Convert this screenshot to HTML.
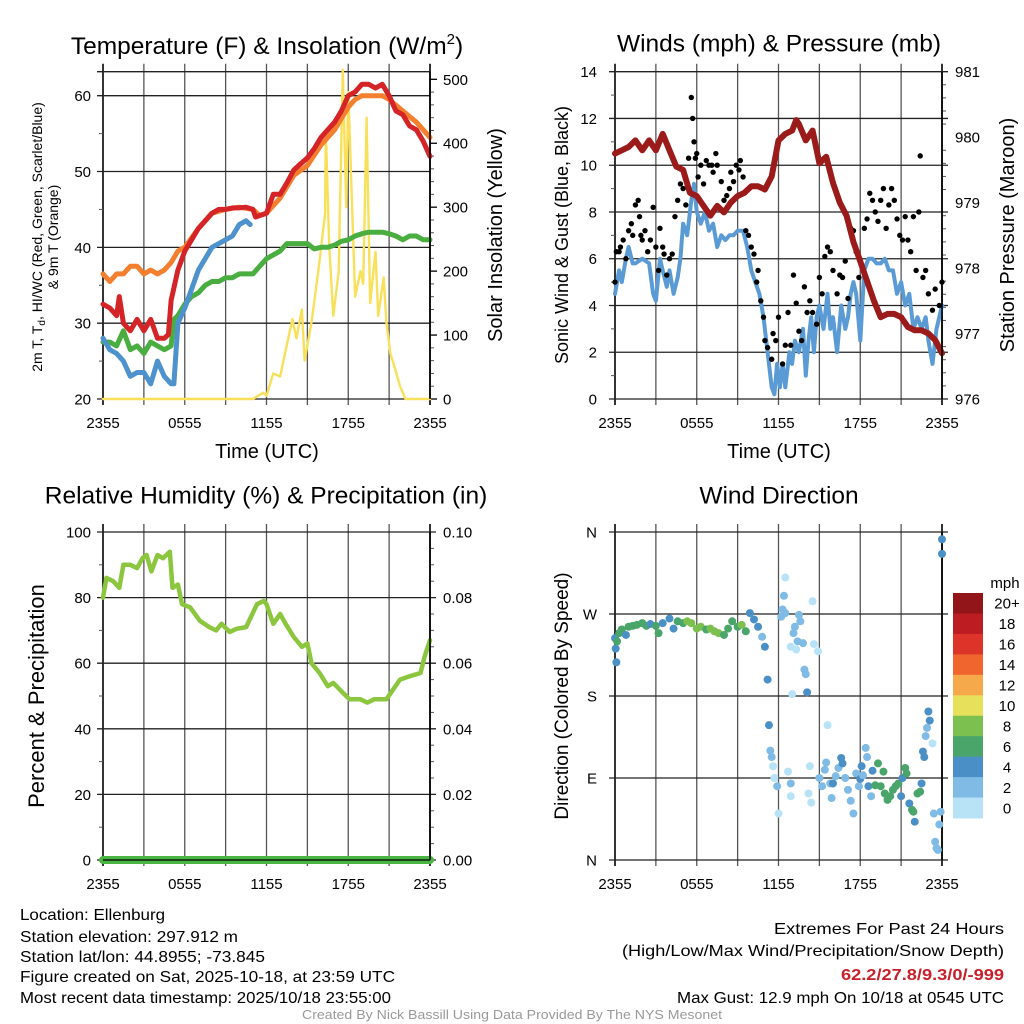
<!DOCTYPE html>
<html><head><meta charset="utf-8"><style>
html,body{margin:0;padding:0;background:#fff;}
svg{display:block;font-family:"Liberation Sans",sans-serif;}
.nar{font-family:"Liberation Sans Narrow","Liberation Sans",sans-serif;}
</style></head><body>
<svg id="root" width="1024" height="1024" viewBox="0 0 1024 1024" xmlns="http://www.w3.org/2000/svg">
<rect width="1024" height="1024" fill="#fff"/>
<text x="267" y="54" font-size="24.5" text-anchor="middle">Temperature (F) &amp; Insolation (W/m<tspan font-size="15" dy="-10">2</tspan><tspan dy="10">)</tspan></text>
<text x="779" y="45" font-size="24.5" text-anchor="middle" dominant-baseline="middle">Winds (mph) &amp; Pressure (mb)</text>
<text x="266" y="497" font-size="24.5" text-anchor="middle" dominant-baseline="middle">Relative Humidity (%) &amp; Precipitation (in)</text>
<text x="779" y="497" font-size="24.5" text-anchor="middle" dominant-baseline="middle">Wind Direction</text>
<text x="267" y="458" font-size="20" text-anchor="middle">Time (UTC)</text>
<text x="779" y="458" font-size="20" text-anchor="middle">Time (UTC)</text>
<text transform="translate(42,237) rotate(-90)" font-size="14" text-anchor="middle">2m T, T<tspan font-size="10" dy="3">d</tspan><tspan dy="-3">, HI/WC (Red, Green, Scarlet/Blue)</tspan></text>
<text transform="translate(58,237) rotate(-90)" font-size="14" text-anchor="middle">&amp; 9m T (Orange)</text>
<text transform="translate(502,235) rotate(-90)" font-size="20" text-anchor="middle">Solar Insolation (Yellow)</text>
<text transform="translate(568,235) rotate(-90)" font-size="18" text-anchor="middle">Sonic Wind &amp; Gust (Blue, Black)</text>
<text transform="translate(1014,235) rotate(-90)" font-size="20" text-anchor="middle">Station Pressure (Maroon)</text>
<text transform="translate(44,696) rotate(-90)" font-size="22" text-anchor="middle">Percent &amp; Precipitation</text>
<text transform="translate(568,696) rotate(-90)" font-size="19" text-anchor="middle">Direction (Colored By Speed)</text>
<g class="nar" font-size="16">
<text x="20" y="920" textLength="145" lengthAdjust="spacingAndGlyphs">Location: Ellenburg</text>
<text x="20" y="942" textLength="218" lengthAdjust="spacingAndGlyphs">Station elevation: 297.912 m</text>
<text x="20" y="962" textLength="245" lengthAdjust="spacingAndGlyphs">Station lat/lon: 44.8955; -73.845</text>
<text x="20" y="982" textLength="375" lengthAdjust="spacingAndGlyphs">Figure created on Sat, 2025-10-18, at 23:59 UTC</text>
<text x="20" y="1003" textLength="371" lengthAdjust="spacingAndGlyphs">Most recent data timestamp: 2025/10/18 23:55:00</text>
</g>
<g class="nar" font-size="16">
<text x="774" y="934" textLength="230" lengthAdjust="spacingAndGlyphs">Extremes For Past 24 Hours</text>
<text x="622" y="956" textLength="382" lengthAdjust="spacingAndGlyphs">(High/Low/Max Wind/Precipitation/Snow Depth)</text>
<text x="841" y="980" textLength="163" lengthAdjust="spacingAndGlyphs" fill="#c8202a" font-weight="bold">62.2/27.8/9.3/0/-999</text>
<text x="677" y="1003" textLength="327" lengthAdjust="spacingAndGlyphs">Max Gust: 12.9 mph On 10/18 at 0545 UTC</text>
</g>
<text class="nar" x="302" y="1019" font-size="13" fill="#999" textLength="420" lengthAdjust="spacingAndGlyphs">Created By Nick Bassill Using Data Provided By The NYS Mesonet</text>
</svg>
<script>
// ---------- data ----------
const xTickHours = [0, 6, 12, 18, 24];
const xTickLabels = ["2355", "0555", "1155", "1755", "2355"];
// Temperature panel
const tempTicks = [20, 30, 40, 50, 60];
const solarTicks = [0, 100, 200, 300, 400, 500];
const redH = [0,0.5,1,1.2,1.5,2,2.5,3,3.5,4,4.5,4.8,5,5.5,6,6.5,7,7.5,8,8.5,9,9.5,10,10.5,11,11.2,11.5,12,12.5,13,13.5,14,14.5,15,15.5,16,16.5,17,17.5,18,18.5,19,19.5,20,20.5,21,21.5,22,22.5,23,23.5,24];
const redT = [32.5,32,31,33.5,30,29,30.5,29,30.5,28,28,28.5,33,37,39.5,41,42.5,43.5,44.5,45,45,45.2,45.2,45.3,45,44,44.2,44.5,47,47,48.5,50.2,51,51.8,53,54.5,55.5,56.5,58,60,60.5,61.5,61.5,61,61.5,60,58,57.5,56,55.5,54,52];
const orangeH = [0,0.5,1,1.5,2,2.5,3,3.5,4,4.5,5,5.5,6,7,8,9,10,11,11.5,12,13,14,15,16,17,17.5,18,18.5,19,20,20.5,21,22,23,24];
const orangeT = [36.5,35.5,36.5,36.5,37.5,37.5,36.5,37,36.5,37,38,39.5,40,42.5,44.5,45,45.3,45,44.2,44.5,46.5,49.5,50.8,53.5,55.5,57,58.5,59.5,60,60,60,59.5,58,56.5,54.5];
const blueH = [0,0.5,1,1.5,2,2.5,3,3.5,4,4.5,5,5.2,5.5,6,6.5,7,7.5,8,8.5,9,9.5,10,10.5,10.8];
const blueT = [28,26.5,26,25,23,23.5,23.5,22,25,23,22,22,30,32,34.5,37,38.5,40,40.5,41,41.5,43,43.5,43];
const greenH = [0,0.5,1,1.5,2,2.5,3,3.5,4,4.5,5,5.2,5.5,6,6.5,7,7.5,8,8.5,9,9.5,10,10.5,11,11.5,12,12.5,13,13.5,14,14.5,15,15.5,16,16.5,17,17.5,18,18.5,19,19.5,20,20.5,21,21.5,22,22.5,23,23.5,24];
const greenT = [27.5,27.5,27,29,26.5,27,26,27.5,27,26.5,27,30.5,31,32.5,33.5,34,35,35.5,35.5,36,36,36.5,36.5,36.5,37.5,38.5,39,39.5,40.5,40.5,40.5,40.5,39.8,40,40,40.3,40.8,41,41.5,41.8,42,42,42,41.8,41.5,41,41.5,41.5,41,41];
const solarH = [0,11,11.75,12,12.5,13,13.5,13.9,14.2,14.6,14.8,15.3,15.8,16.3,16.35,16.6,16.9,17.3,17.6,17.85,18,18.25,18.5,18.9,19.1,19.35,19.6,20,20.2,20.6,20.8,21.1,21.4,21.8,22.2,24];
const solarW = [0,0,10,5,40,35,85,125,95,140,60,120,200,290,420,240,130,200,515,300,480,320,160,200,180,440,150,230,130,190,120,70,50,20,0,0];
// Wind panel
const windTicks = [0, 2, 4, 6, 8, 10, 12, 14];
const presTicks = [976, 977, 978, 979, 980, 981];
const windH = [0,0.3,0.5,0.8,1,1.3,1.5,2,2.5,2.8,3,3.3,3.5,3.8,4,4.3,4.6,4.8,5,5.3,5.6,5.8,6,6.3,6.6,6.9,7.2,7.5,7.8,8.1,8.4,8.7,9,9.4,9.7,10,10.3,10.6,10.9,11.2,11.5,11.7,11.9,12.1,12.3,12.5,12.8,13,13.2,13.5,13.8,14,14.2,14.4,14.6,14.8,15,15.3,15.6,15.8,16,16.3,16.6,16.9,17.1,17.3,17.5,17.7,18,18.3,18.6,18.9,19.2,19.5,19.8,20.1,20.4,20.7,21,21.3,21.6,21.9,22.2,22.5,22.8,23,23.3,23.6,24];
const windV = [4.5,5.5,5,6,6.5,5.8,5.8,6,5.8,4.5,4.2,6,5.5,4.8,5.5,4.5,5.2,6,7.5,7,8.5,9.2,8,7.5,8,7.2,7.5,6.5,7,6.8,7,7,7.2,7.2,6.5,5.5,5,4.5,3.5,2,0.5,0.2,1.5,0.5,1.5,0.5,2,1.5,2.5,2,3,1,2.5,3.5,2,3.5,4,3,4.5,3,3.5,2,4,3,3.5,4.5,5,4.5,2.5,5.5,6,6,5.8,5.8,6,5.5,5.5,4.5,5,4,4.5,3,3.5,3,3.5,2.5,1.5,3,4];
const gustH = [0,0.1,0.3,0.4,0.6,0.8,1,1.2,1.3,1.5,1.7,1.8,1.9,2,2.2,2.4,2.6,2.8,3,3.2,3.3,3.5,3.6,3.8,4,4.2,4.4,4.6,4.8,5,5.2,5.4,5.6,5.7,5.8,5.9,6,6.1,6.3,6.5,6.7,6.9,7.1,7.2,7.4,7.5,7.8,8,8.2,8.4,8.5,8.7,8.9,9.1,9.2,9.4,9.6,9.8,10,10.2,10.4,10.5,10.7,10.9,11,11.2,11.5,11.6,11.8,12,12.3,12.5,12.7,12.9,13.1,13.3,13.5,13.7,13.9,14.1,14.3,14.5,14.8,15,15.2,15.4,15.6,15.8,16,16.3,16.5,16.7,16.9,17.1,17.3,17.5,17.7,17.9,18.1,18.3,18.5,18.7,18.9,19.1,19.3,19.5,19.7,19.9,20.1,20.3,20.5,20.7,20.9,21.1,21.3,21.5,21.7,21.9,22.1,22.3,22.4,22.6,22.8,23,23.3,23.5,23.8,24];
const gustV = [5,6.3,6.3,6.5,6.8,6,7.2,7.5,7,8.3,8.5,7.8,7,6.8,7.2,6.3,6.8,8.2,6.5,5.5,7.3,6.5,6.2,5.3,6,6.2,7.8,8.5,9.2,9,8.3,10.3,12.9,12,11,10.3,10.5,9.5,10,9.2,10.2,10,10,9.7,10.5,10,9.3,8.5,8.7,9,9.7,9.3,10,9.8,10.2,9.5,7.2,7,6.5,6.2,5,5.5,4.2,3.5,2.5,2.2,1.7,2.8,2.5,3.5,1.5,2.3,3.7,2.3,5.3,4.1,2.9,2.5,4.8,3.7,4.2,3.7,3.2,5.2,4.5,6.1,6.5,6.3,5.5,4.5,5.3,5.2,5.9,4.3,7.3,7.2,6.3,5.2,5.7,7.3,7.7,8.8,8.5,8,7.6,8.5,9,7.3,8.3,9,8.5,7.7,7,6.8,7.8,6.8,6.3,7.8,5.5,8,10.4,5.2,5.5,4.5,3.8,4.7,4,5];
const presH = [0,0.5,1,1.5,2,2.5,3,3.5,4,4.5,5,5.5,6,6.5,7,7.5,8,8.5,9,9.5,10,10.5,11,11.5,12,12.5,13,13.3,13.5,14,14.5,15,15.5,16,16.5,17,17.5,18,18.5,19,19.5,20,20.5,21,21.5,22,22.5,23,23.5,24];
const presV = [979.75,979.8,979.85,979.95,979.8,979.95,979.8,980.05,979.8,979.55,979.5,979.15,979.1,978.95,978.8,978.95,978.85,979,979.1,979.15,979.25,979.25,979.2,979.4,979.95,980.05,980.1,980.26,980.2,979.95,980.1,979.6,979.7,979.3,979.0,978.8,978.4,978.1,977.8,977.5,977.25,977.3,977.3,977.25,977.1,977.05,977.05,977,976.9,976.7];
// Humidity panel
const rhTicks = [0, 20, 40, 60, 80, 100];
const precipTicks = ["0.00", "0.02", "0.04", "0.06", "0.08", "0.10"];
const rhH = [0,0.25,0.75,1.2,1.5,2,2.5,2.9,3.2,3.55,4,4.4,4.9,5.1,5.5,5.8,6.4,7.1,7.8,8.3,8.7,9.3,9.8,10.5,11.3,11.8,12,12.5,13,13.4,14,14.6,15,15.3,15.9,16.5,16.9,17.6,18.1,18.9,19.4,19.9,20.8,21.3,21.8,22.5,23.3,23.6,24];
const rhV = [80,86,85,83,90,90,89,92,93,88,93,92,94,83,84,78,77,73,71,70,72,69.5,70.5,71,78,79,78,72,75,72,68,65,66,60,57,53,54,51,49,49,48,49,49,52,55,56,57,62,67];
const precipH = [0, 24];
const precipV = [0, 0];
// Direction panel
const dirTicks = [0, 90, 180, 270, 360];
const dirLabels = ["N", "E", "S", "W", "N"];
const dirH = [0,0.05,0.1,0.15,0.3,0.5,0.8,1,1.3,1.6,2,2.3,2.6,3,3.2,3.5,4,4.3,4.6,5,5.3,5.6,6,6.3,6.7,7,7.3,7.6,8,8.3,8.6,9,9.3,9.6,9.9,10.2,10.5,10.8,11,11.2,11.3,11.4,11.5,11.6,11.7,11.9,12,12.2,12.3,12.4,12.5,12.5,12.7,12.9,12.9,12.9,13,13.1,13.2,13.3,13.4,13.5,13.6,13.8,13.9,14,14.1,14.2,14.3,14.4,14.5,14.6,14.9,15,15.2,15.4,15.5,15.6,15.8,15.9,16,16.2,16.4,16.6,16.7,16.9,17.1,17.3,17.5,17.7,17.9,18,18.1,18.2,18.4,18.5,18.6,18.8,18.9,19.1,19.3,19.5,19.7,19.8,20,20.2,20.4,20.6,20.8,21,21.1,21.3,21.4,21.6,21.8,21.9,22,22.2,22.4,22.5,22.6,22.7,22.8,22.9,23,23.1,23.3,23.4,23.5,23.6,23.7,23.8,23.9,24,24];
const dirDeg = [243.5,232,217,240,249,253,247,256,257,258,260,257,259,257,249,260,265,254,262,260,262,260,254,256,253,254,251,249,247,254,262,256,258,251,271,264,256,245,234,198,148,120,113,103,90,81,51,267,275,290,310,271,97,84,70,234,182,249,256,231,240,269,262,238,209,204,184,73,103,63,284,237,229,90,81,99,107,148,84,68,84,92,101,112,106,90,77,65,51,95,81,89,103,93,123,113,81,70,98,82,106,81,97,73,66,70,77,81,84,70,90,101,95,62,55,53,42,73,75,84,119,113,136,145,163,153,128,51,20,13,11,39,53,352,336];
const dirSpd = [4.5,4.5,4.5,6.5,6,6.5,4.5,6.5,6,6.5,6.5,6,4.5,6,6,4.5,4.5,4.5,6,6,8,8,8,8,6,8,8,8,6.5,6,6.5,6,8.5,6,4.5,4.5,4.5,2.5,4,4,4,2.5,2.5,1.5,1.5,2.5,1,2.5,3,3,1,2.5,1.5,3.5,1,1,1,3,3,1,2.5,3,3,3,3,3,4,1.5,1,1,1,1,1,3,3.5,3,2.5,1,2,2.5,4,3.5,3,4.5,4,3.5,3,2.5,2,2.5,3.5,4.5,4,3,2.5,2.5,4,2.5,4.5,6,6,6,6.5,6,6,6.5,6,6.5,6,5,4.5,6,6.5,4.5,6,6.5,4.5,6,6.5,4,4,4,2.5,2,4,4,1,2.5,3.5,3,2.5,2.5,2.5,4,4];
const speedBins = ["0", "2", "4", "6", "8", "10", "12", "14", "16", "18", "20+"];
const speedColors = ["#b8e3f7","#7fbbe4","#4a90c6","#4aa56b","#7cc150","#e6e05a","#f6a94a","#f0652d","#dc3428","#bb1d23","#921519"];

// ---------- drawing ----------
const NS = "http://www.w3.org/2000/svg";
const root = document.getElementById("root");
function mk(tag, attrs, parent) {
  const e = document.createElementNS(NS, tag);
  for (const k in attrs) e.setAttribute(k, attrs[k]);
  (parent || root).appendChild(e);
  return e;
}
function scale(d0, d1, r0, r1) { return v => r0 + (v - d0) * (r1 - r0) / (d1 - d0); }

function panel(name, x0, x1, y0, y1) {
  const g = mk("g", {});
  
  
  const xs = scale(0, 24, x0, x1);
  for (let h = 0; h <= 24; h += 3) {
    const x = xs(h);
    const gl = mk("line", {x1: x, x2: x, y1: y0 - 8, y2: y1 + 6, stroke: (h === 0 || h === 24) ? "#000" : "#555", "stroke-width": (h === 0 || h === 24) ? 1.6 : 1.3}, g);
    
    
  }
  xTickHours.forEach((h, i) => {
    const t = mk("text", {x: xs(h), y: y1 + 29, "font-size": 15, "text-anchor": "middle"}, g);
    
    
    t.textContent = xTickLabels[i];
  });
  return {g, xs};
}
function hline(g, y, x0, x1, ext) {
  const l = mk("line", {x1: x0 - 6, x2: x1 + (ext ? 6 : 0), y1: y, y2: y, stroke: "#222", "stroke-width": 1.3}, g);
  
  
}
function label(g, x, y, txt, anchor, name) {
  const t = mk("text", {x: x, y: y + 5.5, "font-size": 15, "text-anchor": anchor}, g);
  
  
  t.textContent = txt;
}
function poly(g, hs, vs, xs, ys, color, w, name) {
  const pts = hs.map((h, i) => xs(h).toFixed(1) + "," + ys(vs[i]).toFixed(1)).join(" ");
  const p = mk("polyline", {points: pts, fill: "none", stroke: color, "stroke-width": w, "stroke-linejoin": "round", "stroke-linecap": "round"}, g);
  
  
}
function minorTicks(g, x, vals, ys, dir) {
  vals.forEach(v => {
    const m = mk("line", {x1: x, x2: x + dir * 4, y1: ys(v), y2: ys(v), stroke: "#555", "stroke-width": 1}, g);
    
    
  });
}

// Panel 1
{
  const x0 = 103, x1 = 430, y0 = 71.7, y1 = 399;
  const {g, xs} = panel("temperature", x0, x1, y0, y1);
  const ys = scale(20, 60, 399, 95.7);
  const ysr = scale(0, 500, 399, 79.3);
  hline(g, y0, x0, x1, false);
  tempTicks.forEach(v => { hline(g, ys(v), x0, x1, false); label(g, 91, ys(v), String(v), "end", "y-tick-label-left"); });
  solarTicks.forEach(v => {
    const t = mk("line", {x1: x1, x2: x1 + 7, y1: ysr(v), y2: ysr(v), stroke: "#000", "stroke-width": 1.3}, g);
    
    
    label(g, 443, ysr(v), String(v), "start", "y-tick-label-right");
  });
  minorTicks(g, x0, [25, 35, 45, 55], ys, -1);
  minorTicks(g, x1, [20,40,60,80,120,140,160,180,220,240,260,280,320,340,360,380,420,440,460,480], ysr, 1);
  poly(g, solarH, solarW, xs, ysr, "#f9e05a", 2.4, "solar-insolation-line");
  poly(g, greenH, greenT, xs, ys, "#4aad3f", 5, "dewpoint-line");
  poly(g, blueH, blueT, xs, ys, "#4d92cc", 5, "windchill-line");
  poly(g, orangeH, orangeT, xs, ys, "#f4802f", 5, "temperature-9m-line");
  poly(g, redH, redT, xs, ys, "#d42427", 5, "temperature-2m-line");
  const fr = mk("line", {x1: x1, x2: x1, y1: y0, y2: y1, stroke: "#000", "stroke-width": 1.6}, g);
  
  
}
// Panel 2
{
  const x0 = 615, x1 = 942, y0 = 71.7, y1 = 399;
  const {g, xs} = panel("winds", x0, x1, y0, y1);
  const ys = scale(0, 14, 399, 71.7);
  const ysr = scale(976, 981, 399, 71.7);
  windTicks.forEach(v => { hline(g, ys(v), x0, x1, true); label(g, 597, ys(v), String(v), "end", "y-tick-label-left"); });
  presTicks.forEach(v => label(g, 955, ysr(v), String(v), "start", "y-tick-label-right"));
  minorTicks(g, x1, [976.2,976.4,976.6,976.8,977.2,977.4,977.6,977.8,978.2,978.4,978.6,978.8,979.2,979.4,979.6,979.8,980.2,980.4,980.6,980.8], ysr, 1);
  minorTicks(g, x0, [1,3,5,7,9,11,13], ys, -1);
  poly(g, windH, windV, xs, ys, "#5a9bd5", 4, "sonic-wind-line");
  gustH.forEach((h, i) => {
    const c = mk("circle", {cx: xs(h), cy: ys(gustV[i]), r: 2.7, fill: "#000"}, g);
    
    
  });
  poly(g, presH, presV, xs, ysr, "#9b1a1a", 6, "pressure-line");
  const fr = mk("line", {x1: x1, x2: x1, y1: y0, y2: y1, stroke: "#000", "stroke-width": 1.6}, g);
  
  
}
// Panel 3
{
  const x0 = 103, x1 = 430, y0 = 532, y1 = 860;
  const {g, xs} = panel("humidity", x0, x1, y0, y1);
  const ys = scale(0, 100, 860, 532);
  rhTicks.forEach((v, i) => {
    hline(g, ys(v), x0, x1, true);
    label(g, 91, ys(v), String(v), "end", "y-tick-label-left");
    label(g, 443, ys(v), precipTicks[i], "start", "y-tick-label-right");
  });
  minorTicks(g, x0, [10,30,50,70,90], ys, -1);
  minorTicks(g, x1, [5,10,15,25,30,35,45,50,55,65,70,75,85,90,95], ys, 1);
  poly(g, rhH, rhV, xs, ys, "#8cc63f", 4.5, "relative-humidity-line");
  poly(g, precipH, precipV, xs, ys, "#4bb543", 8, "precipitation-line");
  const fr = mk("line", {x1: x1, x2: x1, y1: y0, y2: y1, stroke: "#000", "stroke-width": 1.6}, g);
  
  
  const bl = mk("line", {x1: x0, x2: x1, y1: y1, y2: y1, stroke: "#000", "stroke-width": 1.3}, g);
  
  
}
// Panel 4
{
  const x0 = 615, x1 = 942, y0 = 532, y1 = 860;
  const {g, xs} = panel("direction", x0, x1, y0, y1);
  const ys = scale(0, 360, 860, 532);
  dirTicks.forEach((v, i) => { hline(g, ys(v), x0, x1, true); label(g, 597, ys(v), dirLabels[i], "end", "y-tick-label-left"); });
  const fr = mk("line", {x1: x1, x2: x1, y1: y0, y2: y1, stroke: "#000", "stroke-width": 1.6}, g);
  
  
  dirH.forEach((h, i) => {
    const s = dirSpd[i];
    const bin = Math.min(10, Math.floor(s / 2));
    const c = mk("circle", {cx: xs(h), cy: ys(dirDeg[i]), r: 4, fill: speedColors[bin]}, g);
    
    
  });
  const cb = mk("g", {});
  
  
  const cbTop = 593, cbBot = 818, n = speedBins.length, bh = (cbBot - cbTop) / n;
  speedBins.forEach((lab, i) => {
    const k = n - 1 - i;
    const r = mk("rect", {x: 953, y: cbTop + i * bh, width: 30, height: bh + 0.5, fill: speedColors[k]}, cb);
    
    
    const t = mk("text", {x: 1007, y: cbTop + i * bh + bh / 2 + 5.5, "font-size": 15, "text-anchor": "middle"}, cb);
    
    
    t.textContent = speedBins[k];
  });
  const mph = mk("text", {x: 1005, y: 588, "font-size": 15, "text-anchor": "middle"}, cb);
  
  
  mph.textContent = "mph";
}
</script>
</body></html>
